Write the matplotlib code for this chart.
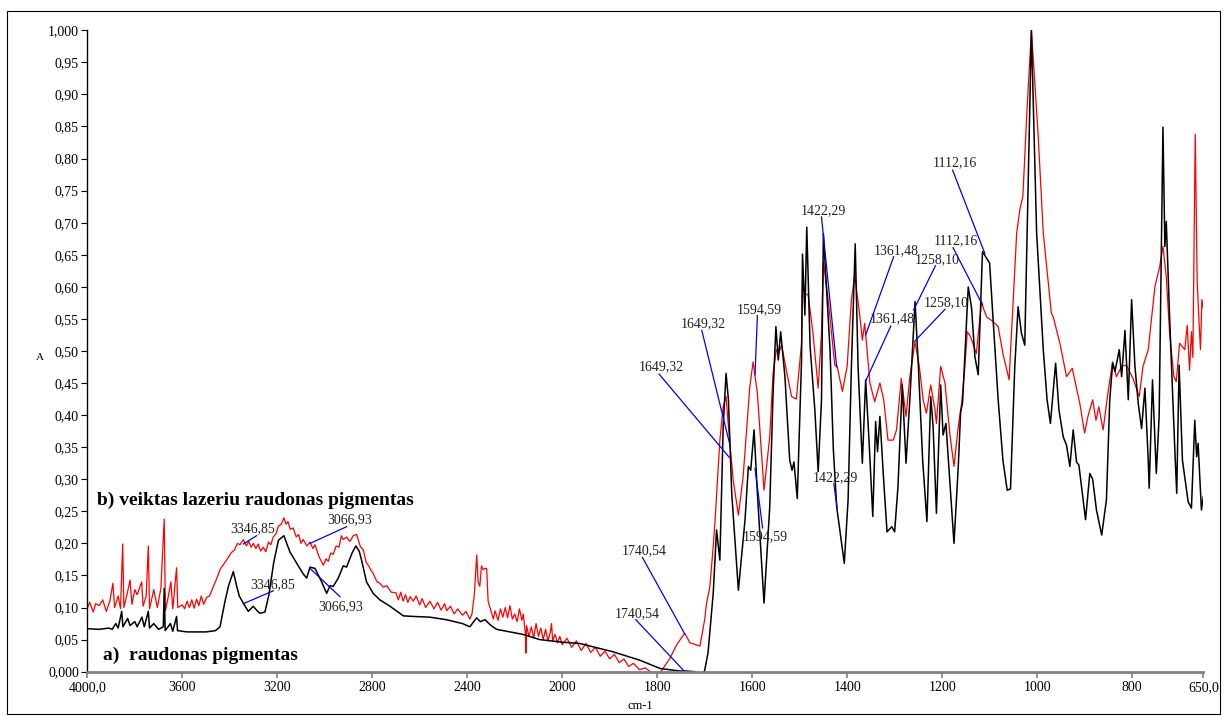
"""FTIR spectra: red pigment before / after laser treatment."""

import matplotlib
matplotlib.use("Agg")
import matplotlib.pyplot as plt
import numpy as np
from matplotlib.patches import Rectangle

plt.rcParams["font.family"] = ["Liberation Serif", "DejaVu Serif"]

# ---- data ------------------------------------------------------------------
# a) raudonas pigmentas (black)
wn_a = [4000, 3950, 3910, 3895, 3880, 3870, 3855, 3850, 3830, 3820, 3800, 3790,
        3770, 3760, 3743, 3738, 3720, 3700, 3680, 3676, 3672, 3650, 3640, 3624,
        3620, 3580, 3500, 3460, 3441, 3420, 3405, 3385, 3372, 3360, 3343, 3322,
        3301, 3285, 3273, 3252, 3235, 3215, 3195, 3172, 3160, 3147, 3118, 3090,
        3076, 3062, 3041, 3013, 2992, 2978, 2964, 2943, 2922, 2908, 2885, 2869,
        2855, 2845, 2824, 2796, 2768, 2725, 2669, 2620, 2557, 2487, 2420, 2389,
        2360, 2345, 2325, 2300, 2276, 2164, 2094, 2000, 1963, 1893, 1837, 1794,
        1752, 1740, 1721, 1707, 1700, 1693, 1682, 1675, 1668, 1661, 1655, 1650,
        1643, 1629, 1615, 1608, 1603, 1596, 1589, 1575, 1563, 1556, 1550, 1545,
        1540, 1531, 1521, 1516, 1512, 1505, 1496, 1494, 1489, 1485, 1478, 1468,
        1461, 1454, 1450, 1436, 1429, 1422, 1406, 1398, 1391, 1383, 1377, 1368,
        1361, 1354, 1346, 1340, 1336, 1331, 1324, 1316, 1306, 1300, 1293, 1284,
        1276, 1268, 1257, 1250, 1241, 1232, 1224, 1219, 1212, 1203, 1198, 1192,
        1185, 1175, 1166, 1161, 1157, 1145, 1138, 1131, 1124, 1115, 1100, 1093,
        1082, 1072, 1063, 1056, 1047, 1040, 1033, 1026, 1012, 1001, 987, 979,
        972, 961, 954, 945, 938, 931, 924, 917, 912, 898, 889, 883, 875, 864,
        854, 847, 841, 836, 827, 822, 815, 808, 801, 794, 787, 780, 773, 766,
        764, 757, 749, 743, 735, 731, 728, 721, 710, 706, 701, 694, 682, 675,
        668, 664, 661, 654, 650]
abs_a = [0.067, 0.066, 0.068, 0.066, 0.075, 0.068, 0.094, 0.070, 0.083, 0.072,
         0.078, 0.070, 0.085, 0.070, 0.094, 0.068, 0.075, 0.066, 0.070, 0.130,
         0.064, 0.075, 0.063, 0.086, 0.064, 0.062, 0.062, 0.064, 0.070, 0.110,
         0.134, 0.156, 0.135, 0.118, 0.107, 0.094, 0.102, 0.095, 0.091, 0.093,
         0.120, 0.170, 0.205, 0.212, 0.200, 0.187, 0.169, 0.152, 0.146, 0.163,
         0.161, 0.140, 0.122, 0.134, 0.133, 0.146, 0.165, 0.163, 0.185, 0.196,
         0.188, 0.174, 0.140, 0.122, 0.112, 0.102, 0.087, 0.086, 0.085, 0.081,
         0.075, 0.070, 0.084, 0.078, 0.081, 0.072, 0.066, 0.058, 0.050, 0.046,
         0.044, 0.031, 0.018, 0.005, 0.001, 0.001, 0.000, -0.008, 0.002, 0.029,
         0.122, 0.221, 0.174, 0.382, 0.465, 0.424, 0.278, 0.127, 0.237, 0.320,
         0.314, 0.377, 0.278, 0.107, 0.257, 0.434, 0.538, 0.486, 0.530, 0.460,
         0.330, 0.314, 0.327, 0.270, 0.486, 0.651, 0.556, 0.693, 0.507, 0.408,
         0.312, 0.424, 0.683, 0.501, 0.346, 0.257, 0.169, 0.268, 0.476, 0.667,
         0.476, 0.325, 0.455, 0.361, 0.242, 0.390, 0.343, 0.398, 0.309, 0.218,
         0.226, 0.218, 0.288, 0.447, 0.325, 0.424, 0.577, 0.476, 0.330, 0.234,
         0.429, 0.382, 0.247, 0.447, 0.369, 0.387, 0.309, 0.200, 0.320, 0.405,
         0.419, 0.600, 0.567, 0.491, 0.463, 0.655, 0.637, 0.553, 0.424, 0.330,
         0.283, 0.285, 0.476, 0.569, 0.528, 0.509, 1.000, 0.684, 0.502, 0.424,
         0.387, 0.481, 0.408, 0.366, 0.353, 0.320, 0.377, 0.327, 0.322, 0.237,
         0.309, 0.300, 0.252, 0.213, 0.268, 0.424, 0.481, 0.468, 0.502, 0.460,
         0.532, 0.424, 0.580, 0.476, 0.418, 0.379, 0.442, 0.330, 0.286, 0.455,
         0.309, 0.398, 0.849, 0.663, 0.702, 0.553, 0.346, 0.278, 0.478, 0.330,
         0.265, 0.255, 0.392, 0.335, 0.356, 0.252, 0.273]

# b) veiktas lazeriu raudonas pigmentas (red), noisy stretches read point by point
wn_b = [4000, 3990, 3975, 3965, 3950, 3935, 3920, 3905, 3892, 3885, 3870, 3860,
        3851, 3846, 3830, 3820, 3812, 3800, 3790, 3771, 3765, 3752, 3743, 3738,
        3720, 3705, 3690, 3676, 3671, 3660, 3648, 3640, 3624, 3619, 3600, 3590,
        3580, 3570, 3560, 3550, 3540, 3530, 3520, 3510, 3497, 3485, 3469, 3455,
        3440, 3425, 3413, 3395, 3380, 3368, 3357, 3343, 3330, 3320, 3310, 3301,
        3290, 3280, 3270, 3259, 3248, 3237, 3227, 3217, 3205, 3195, 3183, 3172,
        3163, 3155, 3145, 3133, 3120, 3110, 3100, 3091, 3075, 3062, 3050, 3041,
        3025, 3006, 2995, 2985, 2975, 2964, 2952, 2940, 2930, 2922, 2908, 2894,
        2880, 2866, 2850, 2838, 2825, 2815, 2805, 2796, 2780, 2768, 2755, 2739,
        2720, 2700, 2690, 2680, 2670, 2660, 2650, 2640, 2627, 2615, 2600, 2590,
        2575, 2557, 2540, 2525, 2510, 2495, 2487, 2470, 2455, 2440, 2420, 2405,
        2389, 2380, 2370, 2360, 2354, 2347, 2340, 2333, 2325, 2318, 2312, 2300,
        2290, 2283, 2270, 2260, 2250, 2240, 2230, 2220, 2210, 2200, 2190, 2180,
        2170, 2164, 2155, 2153, 2150, 2140, 2130, 2120, 2110, 2100, 2090, 2080,
        2070, 2060, 2050, 2045, 2040, 2030, 2020, 2010, 2000, 1990, 1980, 1970,
        1960, 1950, 1940, 1930, 1920, 1910, 1900, 1890, 1880, 1870, 1860, 1850,
        1837, 1825, 1808, 1794, 1773, 1759, 1742, 1731, 1710, 1700, 1696, 1689,
        1682, 1678, 1668, 1661, 1655, 1650, 1640, 1629, 1619, 1605, 1598, 1589,
        1575, 1563, 1556, 1549, 1545, 1538, 1528, 1517, 1507, 1496, 1494, 1489,
        1482, 1472, 1461, 1454, 1450, 1440, 1426, 1421, 1410, 1400, 1391, 1384,
        1373, 1368, 1363, 1352, 1342, 1331, 1323, 1314, 1303, 1296, 1286, 1276,
        1268, 1257, 1248, 1240, 1233, 1224, 1215, 1212, 1203, 1194, 1184, 1175,
        1166, 1159, 1152, 1147, 1140, 1128, 1117, 1112, 1106, 1093, 1082, 1072,
        1059, 1043, 1036, 1030, 1022, 1012, 998, 987, 970, 966, 952, 938, 926,
        910, 900, 893, 883, 876, 870, 861, 851, 841, 833, 822, 812, 798, 785,
        777, 766, 752, 742, 735, 728, 721, 712, 707, 700, 689, 684, 679, 675,
        672, 667, 663, 660, 656, 653, 650]
abs_b = [0.099, 0.108, 0.093, 0.106, 0.103, 0.112, 0.094, 0.110, 0.138, 0.100,
         0.118, 0.098, 0.199, 0.100, 0.125, 0.143, 0.105, 0.128, 0.120, 0.140,
         0.102, 0.118, 0.196, 0.098, 0.128, 0.100, 0.130, 0.238, 0.095, 0.115,
         0.140, 0.098, 0.162, 0.100, 0.104, 0.098, 0.110, 0.100, 0.112, 0.099,
         0.113, 0.103, 0.118, 0.105, 0.116, 0.118, 0.133, 0.145, 0.160, 0.168,
         0.174, 0.185, 0.190, 0.200, 0.198, 0.206, 0.196, 0.203, 0.194, 0.200,
         0.192, 0.199, 0.188, 0.194, 0.187, 0.202, 0.198, 0.210, 0.215, 0.227,
         0.230, 0.240, 0.230, 0.234, 0.222, 0.224, 0.210, 0.214, 0.200, 0.206,
         0.196, 0.202, 0.192, 0.198, 0.180, 0.166, 0.176, 0.172, 0.185, 0.183,
         0.196, 0.194, 0.212, 0.206, 0.210, 0.203, 0.212, 0.214, 0.195, 0.190,
         0.170, 0.165, 0.158, 0.153, 0.140, 0.138, 0.132, 0.134, 0.124, 0.123,
         0.112, 0.124, 0.110, 0.120, 0.108, 0.117, 0.110, 0.118, 0.104, 0.114,
         0.100, 0.110, 0.098, 0.108, 0.096, 0.106, 0.095, 0.102, 0.090, 0.098,
         0.088, 0.094, 0.082, 0.090, 0.120, 0.182, 0.140, 0.133, 0.165, 0.159,
         0.161, 0.161, 0.110, 0.095, 0.082, 0.095, 0.080, 0.098, 0.085, 0.100,
         0.084, 0.103, 0.082, 0.090, 0.078, 0.098, 0.080, 0.090, 0.060, 0.029,
         0.072, 0.055, 0.070, 0.052, 0.075, 0.055, 0.068, 0.050, 0.066, 0.048,
         0.062, 0.075, 0.048, 0.058, 0.045, 0.055, 0.042, 0.052, 0.038, 0.048,
         0.033, 0.044, 0.030, 0.038, 0.024, 0.032, 0.020, 0.027, 0.014, 0.020,
         0.008, 0.013, 0.003, 0.006, -0.004, -0.002, 0.021, 0.042, 0.060, 0.045,
         0.040, 0.081, 0.107, 0.133, 0.195, 0.237, 0.361, 0.413, 0.429, 0.382,
         0.299, 0.244, 0.304, 0.444, 0.483, 0.434, 0.283, 0.366, 0.465, 0.502,
         0.495, 0.509, 0.470, 0.429, 0.425, 0.512, 0.603, 0.590, 0.587, 0.528,
         0.442, 0.528, 0.639, 0.580, 0.478, 0.476, 0.437, 0.476, 0.580, 0.618,
         0.553, 0.517, 0.543, 0.450, 0.421, 0.450, 0.424, 0.361, 0.361, 0.377,
         0.457, 0.398, 0.460, 0.514, 0.476, 0.424, 0.403, 0.447, 0.408, 0.387,
         0.476, 0.450, 0.372, 0.320, 0.382, 0.418, 0.476, 0.530, 0.522, 0.496,
         0.577, 0.564, 0.553, 0.546, 0.538, 0.496, 0.455, 0.684, 0.722, 0.741,
         0.865, 1.000, 0.839, 0.684, 0.559, 0.553, 0.512, 0.460, 0.473, 0.418,
         0.372, 0.398, 0.424, 0.392, 0.413, 0.377, 0.434, 0.483, 0.460, 0.476,
         0.478, 0.457, 0.429, 0.476, 0.502, 0.600, 0.631, 0.663, 0.616, 0.528,
         0.460, 0.452, 0.512, 0.502, 0.540, 0.470, 0.530, 0.490, 0.838, 0.611,
         0.560, 0.502, 0.580, 0.567]

# peak labels: text, label position (wn, A), line start, line end
peak_text = ["3346,85", "3066,93", "3346,85", "3066,93",
             "1740,54", "1740,54", "1649,32", "1649,32",
             "1594,59", "1594,59", "1422,29", "1422,29",
             "1361,48", "1361,48", "1258,10", "1258,10",
             "1112,16", "1112,16"]
label_wn = [3304, 2894, 3218, 2932, 1828, 1842, 1703, 1792, 1586, 1573,
            1450, 1424, 1297, 1304, 1210, 1191, 1174, 1172]
label_abs = [0.2225, 0.2365, 0.135, 0.102, 0.188, 0.090, 0.542, 0.475, 0.565,
             0.210, 0.719, 0.302, 0.657, 0.550, 0.643, 0.575, 0.793, 0.672]
line_wn0 = [3287, 2908, 3217, 2936, 1831, 1845, 1706, 1796, 1589, 1594,
            1454, 1428, 1302, 1308, 1214, 1194, 1178, 1177]
line_abs0 = [0.212, 0.226, 0.126, 0.117, 0.178, 0.081, 0.532, 0.464, 0.555,
             0.317, 0.709, 0.293, 0.647, 0.539, 0.633, 0.565, 0.782, 0.661]
line_wn1 = [3343, 3062, 3343, 3062, 1742, 1742, 1648, 1648, 1594, 1578,
            1422, 1421, 1361, 1361, 1260, 1258, 1110, 1115]
line_abs1 = [0.199, 0.200, 0.106, 0.161, 0.059, 0.000, 0.357, 0.334, 0.463,
             0.224, 0.475, 0.255, 0.525, 0.453, 0.564, 0.515, 0.652, 0.572]

x_ticks = [4000, 3600, 3200, 2800, 2400, 2000, 1800, 1600, 1400, 1200, 1000, 800, 650]
x_tick_labels = ["4000,0", "3600", "3200", "2800", "2400", "2000", "1800",
                 "1600", "1400", "1200", "1000", "800", "650,0"]
y_ticks = [0.0, 0.05, 0.10, 0.15, 0.20, 0.25, 0.30, 0.35, 0.40, 0.45, 0.50,
           0.55, 0.60, 0.65, 0.70, 0.75, 0.80, 0.85, 0.90, 0.95, 1.0]
y_tick_labels = ["0,000", "0,05", "0,10", "0,15", "0,20", "0,25", "0,30", "0,35",
                 "0,40", "0,45", "0,50", "0,55", "0,60", "0,65", "0,70", "0,75",
                 "0,80", "0,85", "0,90", "0,95", "1,000"]


# axis below 2000 cm-1 is stretched 2x (instrument style)
def fwd(w):
    w = np.asarray(w, dtype=float)
    return np.where(w >= 2000, w, 2 * w - 2000)


def inv(u):
    u = np.asarray(u, dtype=float)
    return np.where(u >= 2000, u, (u + 2000) / 2)


fig = plt.figure(figsize=(12.26, 7.16), dpi=100)
ax = fig.add_axes([0.0712, 0.0619, 0.9103, 0.8958])
ax.set_xscale("function", functions=(fwd, inv))

ax.plot(wn_b, abs_b, color="#ff0000", linewidth=0.9)
ax.plot(wn_a, abs_a, color="black", linewidth=1.1)

for i, t in enumerate(peak_text):
    ax.plot([line_wn0[i], line_wn1[i]], [line_abs0[i], line_abs1[i]],
            color="#0000ff", linewidth=0.9)
    ax.text(label_wn[i], label_abs[i], t, ha="center", va="center",
            fontsize=10, color="#222222")

ax.text(3960, 0.2666, "b) veiktas lazeriu raudonas pigmentas", fontsize=14,
        fontweight="bold", ha="left", va="center")
ax.text(3933, 0.026, "a)  raudonas pigmentas", fontsize=14,
        fontweight="bold", ha="left", va="center")

ax.set_xlim(4000, 650)
ax.set_ylim(0, 1.0)
ax.set_xticks(x_ticks)
ax.set_xticklabels(x_tick_labels)
ax.set_yticks(y_ticks)
ax.set_yticklabels(y_tick_labels)
ax.minorticks_off()

for s in ("top", "right"):
    ax.spines[s].set_visible(False)
ax.spines["left"].set_color("black")
ax.spines["left"].set_linewidth(1.0)
ax.spines["bottom"].set_color("#808080")
ax.spines["bottom"].set_linewidth(2.0)
ax.tick_params(axis="x", colors="#808080", labelcolor="black", length=4,
               width=1.2, labelsize=10, pad=3)
ax.tick_params(axis="y", length=4, width=0.8, labelsize=10, pad=2)

fig.text(40 / 1226, 1 - 358 / 716, "A", fontsize=8, ha="center", va="center")
fig.text(640 / 1226, 1 - 706 / 716, "cm-1", fontsize=9, ha="center", va="center")

# outer frame around the whole chart
fig.patches.append(Rectangle((6.5 / 1226, 1 - 714 / 716), (1220 - 6.5) / 1226,
                             (714 - 10.5) / 716, transform=fig.transFigure,
                             fill=False, edgecolor="black", linewidth=0.8))

fig.savefig("out.png", dpi=100)
